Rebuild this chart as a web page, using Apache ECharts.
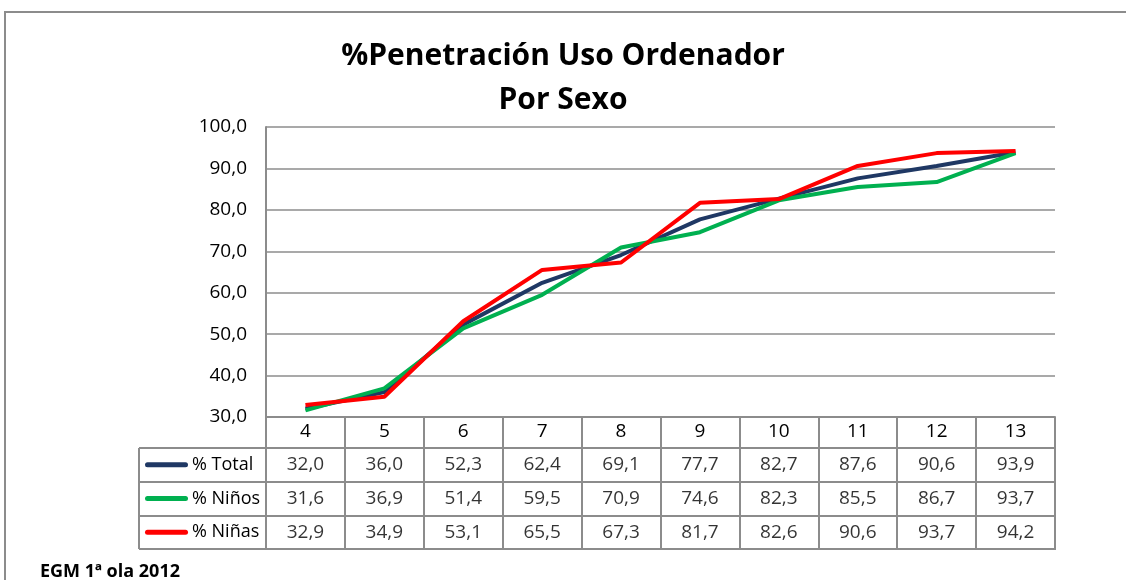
<!DOCTYPE html>
<html>
<head>
<meta charset="utf-8">
<script src="https://cdn.jsdelivr.net/npm/echarts@6/dist/echarts.min.js"></script>
<style>
  html, body { margin: 0; padding: 0; background: #fff; }
  #main { width: 1126px; height: 580px; }
</style>
</head>
<body>
<div id="main"></div>
<script>
// edades
var edades = ['4', '5', '6', '7', '8', '9', '10', '11', '12', '13'];
var nombres = ['% Total', '% Niños', '% Niñas'];
var colores = ['#1F3864', '#00B050', '#FF0000'];

var total = [32.0, 36.0, 52.3, 62.4, 69.1, 77.7, 82.7, 87.6, 90.6, 93.9];
var ninos = [31.6, 36.9, 51.4, 59.5, 70.9, 74.6, 82.3, 85.5, 86.7, 93.7];
var ninas = [32.9, 34.9, 53.1, 65.5, 67.3, 81.7, 82.6, 90.6, 93.7, 94.2];

var ticksY = [30, 40, 50, 60, 70, 80, 90, 100];

var filas = [total, ninos, ninas];
var gris = '#8C8C8C';
var fuente = "'Open Sans', 'Liberation Sans', sans-serif";

function coma(v) {
	return v.toFixed(1).replace('.', ',');
}

// celdas de la tabla: [columna, fila, valor]
var celdas = [];
filas.forEach(function(f, j) {
	f.forEach(function(v, i) {
		celdas.push([i, j, v]);
	});
});

var rich = {};
colores.forEach(function(c, k) {
	rich['l' + k] = { width: 43, height: 5, backgroundColor: c, borderRadius: 3 };
});
rich.t = { fontSize: 18, color: '#000', fontFamily: fuente, padding: [0, 0, 0, 4] };

var dom = document.getElementById('main');
var myChart = echarts.init(dom);
var option = {
	animation: false,
	textStyle: { fontFamily: fuente },
	title: [{
		text: '%Penetración Uso Ordenador\nPor Sexo',
		left: 'center',
		top: 29,
		textStyle: { fontSize: 30, fontWeight: 'bold', color: '#000', lineHeight: 44, fontFamily: fuente }
	}, {
		text: 'EGM 1ª ola 2012',
		left: 35,
		top: 558,
		textStyle: { fontSize: 18, fontWeight: 'bold', color: '#000', fontFamily: fuente }
	}],
	graphic: [{
		type: 'rect',
		silent: true,
		shape: { x: 5, y: 12, width: 1200, height: 700 },
		style: { fill: 'none', stroke: gris, lineWidth: 2 }
	}, {
		type: 'line',
		silent: true,
		shape: { x1: 139, y1: 448, x2: 139, y2: 549 },
		style: { stroke: gris, lineWidth: 2 }
	}],
	grid: [
		{ left: 266, top: 127, width: 789, height: 290 },
		{ left: 266, top: 448, width: 789, height: 101, show: true, borderColor: gris, borderWidth: 2 }
	],
	xAxis: [{
		gridIndex: 0,
		type: 'category',
		data: edades,
		boundaryGap: true,
		axisLine: { lineStyle: { color: gris, width: 2 } },
		axisTick: { show: true, interval: 0, length: 31, lineStyle: { color: gris, width: 2 } },
		axisLabel: { interval: 0, margin: 5, fontSize: 19, color: '#000' },
		splitLine: { show: false }
	}, {
		gridIndex: 1,
		type: 'category',
		data: edades,
		boundaryGap: true,
		axisLine: { show: false },
		axisTick: { show: false },
		axisLabel: { show: false },
		splitLine: { show: true, interval: 0, lineStyle: { color: gris, width: 2 } }
	}],
	yAxis: [{
		gridIndex: 0,
		type: 'value',
		min: ticksY[0],
		max: ticksY[ticksY.length - 1],
		interval: 10,
		axisLine: { show: true, lineStyle: { color: gris, width: 2 } },
		axisTick: { show: false },
		axisLabel: { margin: 19, fontSize: 19, color: '#000', formatter: function(v) { return coma(v); } },
		splitLine: { show: true, lineStyle: { color: gris, width: 1.5 } }
	}, {
		gridIndex: 1,
		type: 'category',
		data: nombres,
		inverse: true,
		boundaryGap: true,
		axisLine: { show: false },
		axisTick: { show: true, interval: 0, length: 127, lineStyle: { color: gris, width: 2 } },
		axisLabel: {
			interval: 0,
			align: 'left',
			margin: 121,
			rich: rich,
			formatter: function(v, k) { return '{l' + k + '|}{t|' + v + '}'; }
		},
		splitLine: { show: true, interval: 0, lineStyle: { color: gris, width: 2 } }
	}],
	series: [{
		name: nombres[0],
		type: 'line',
		data: total,
		symbol: 'none',
		lineStyle: { width: 4, color: colores[0] },
		itemStyle: { color: colores[0] },
		z: 3
	}, {
		name: nombres[1],
		type: 'line',
		data: ninos,
		symbol: 'none',
		lineStyle: { width: 4, color: colores[1] },
		itemStyle: { color: colores[1] },
		z: 4
	}, {
		name: nombres[2],
		type: 'line',
		data: ninas,
		symbol: 'none',
		lineStyle: { width: 4, color: colores[2] },
		itemStyle: { color: colores[2] },
		z: 5
	}, {
		name: 'tabla',
		type: 'scatter',
		xAxisIndex: 1,
		yAxisIndex: 1,
		data: celdas,
		symbol: 'rect',
		symbolSize: 1,
		itemStyle: { color: 'rgba(0,0,0,0)' },
		label: {
			show: true,
			position: 'inside',
			fontSize: 19,
			color: '#000',
			formatter: function(p) { return coma(p.value[2]); }
		},
		silent: true
	}]
};
myChart.setOption(option, true);
</script>
</body>
</html>
